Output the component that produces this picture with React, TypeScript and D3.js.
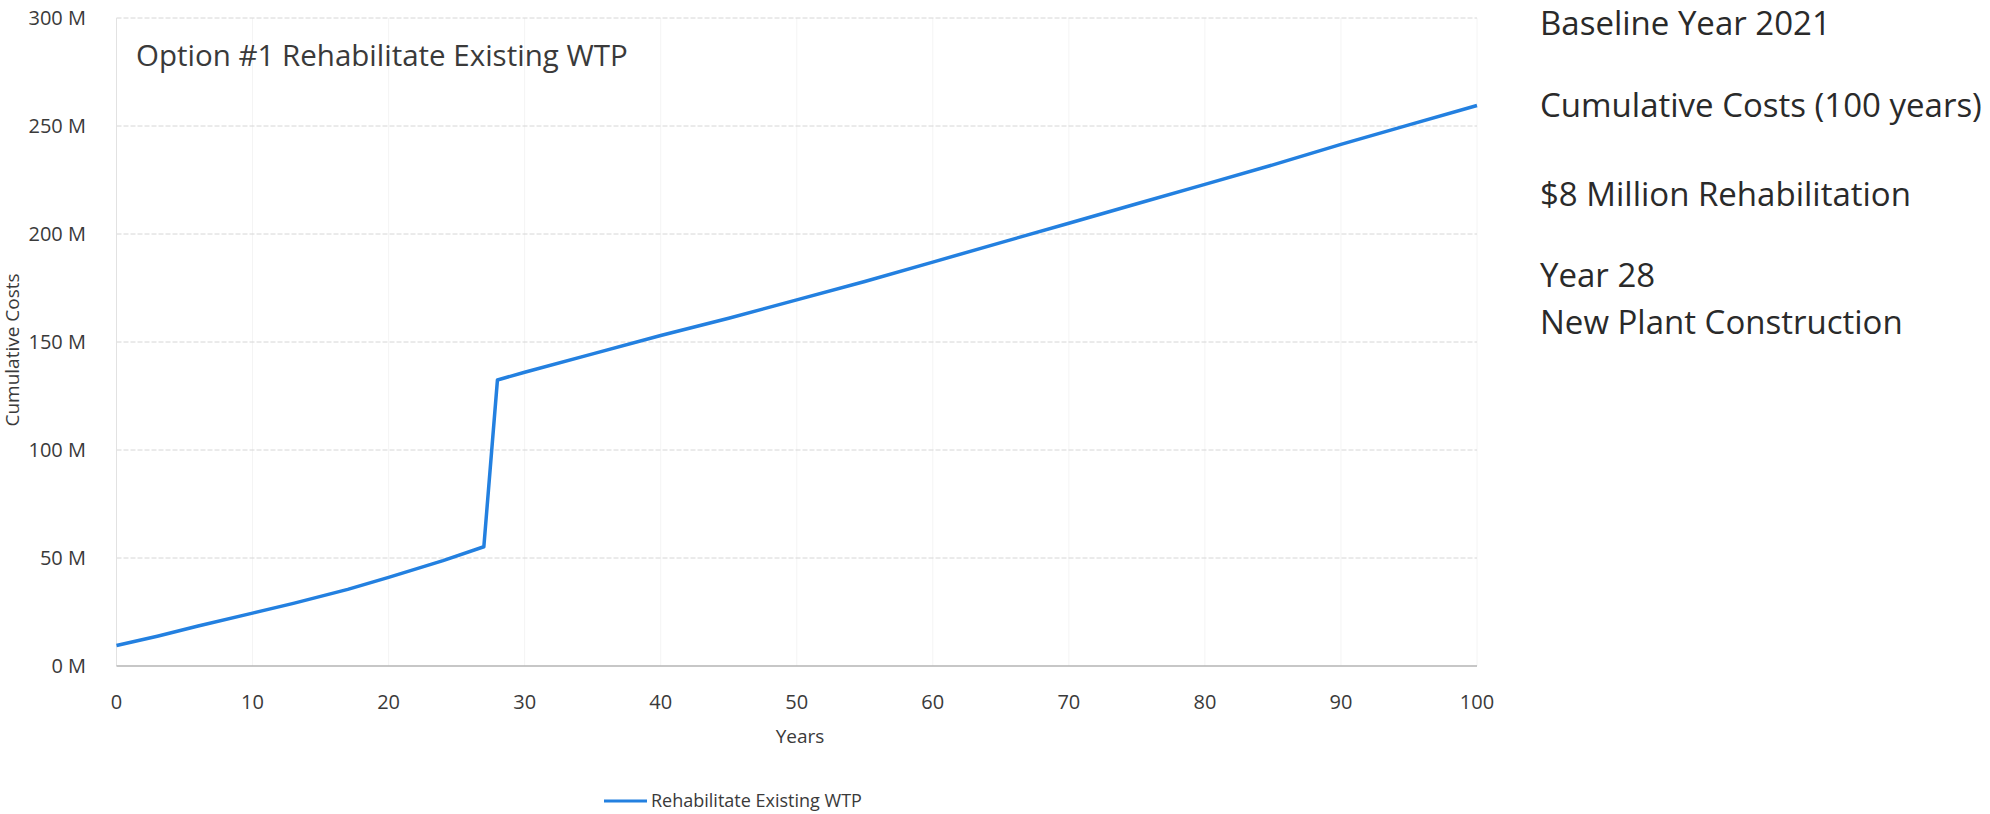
import React from "react";
import * as d3 from "d3";

// ---- data ----
const years: number[] = [0, 3, 6, 10, 13, 17, 20, 24, 27, 28, 30, 35, 40, 45, 50, 55, 60, 65, 70, 75, 80, 85, 90, 95, 100];
const cumulativeCostsM: number[] = [9.5, 13.8, 18.5, 24.5, 29, 35.5, 41, 48.8, 55.2, 132.4, 136, 144.5, 153, 161, 169.5, 178, 187, 196, 205, 214, 223, 232, 241.5, 250.5, 259.5];
const xTickValues: number[] = [0, 10, 20, 30, 40, 50, 60, 70, 80, 90, 100];
const yTickValues: number[] = [0, 50, 100, 150, 200, 250, 300];
const chartTitle = "Option #1 Rehabilitate Existing WTP";
const seriesName = "Rehabilitate Existing WTP";
const xAxisTitle = "Years";
const yAxisTitle = "Cumulative Costs";
const notes: string[] = [
  "Baseline Year 2021",
  "Cumulative Costs (100 years)",
  "$8 Million Rehabilitation",
  "Year 28",
  "New Plant Construction",
];

const W = 1990;
const H = 814;
const FONT = "'Open Sans', 'DejaVu Sans', sans-serif";
const LINE_COLOR = "#2380e0";

export default function App() {
  const x = d3.scaleLinear().domain([0, 100]).range([116.5, 1477]);
  const y = d3.scaleLinear().domain([0, 300]).range([666, 18]);
  const pts = years.map((yr, i) => [yr, cumulativeCostsM[i]] as [number, number]);
  const line = d3
    .line<[number, number]>()
    .x((d) => x(d[0]))
    .y((d) => y(d[1]))
    .curve(d3.curveLinear);

  const noteBaselines = [35, 117, 206, 287, 334];

  return (
    <svg
      width={W}
      height={H}
      viewBox={`0 0 ${W} ${H}`}
      style={{ position: "absolute", left: 0, top: 0, background: "#fff" }}
      fontFamily={FONT}
    >
      <rect x={0} y={0} width={W} height={H} fill="#fff" />
      {/* faint vertical grid */}
      {xTickValues.slice(1).map((t) => (
        <line key={"vx" + t} x1={x(t)} x2={x(t)} y1={y(300)} y2={y(0)} stroke="#f4f4f4" strokeWidth={1} />
      ))}
      {/* horizontal grid */}
      {yTickValues.slice(1).map((t) => (
        <line
          key={"gy" + t}
          x1={x(0)}
          x2={x(100)}
          y1={y(t)}
          y2={y(t)}
          stroke="#d6d6d6"
          strokeWidth={1}
          strokeDasharray="5 2"
        />
      ))}
      {/* y axis line */}
      <line x1={x(0)} x2={x(0)} y1={y(300)} y2={y(0)} stroke="#e2e2e2" strokeWidth={1} />
      {/* baseline */}
      <line x1={x(0)} x2={x(100)} y1={y(0)} y2={y(0)} stroke="#b5b5b5" strokeWidth={1.5} />

      {/* y tick labels */}
      {yTickValues.map((t) => (
        <text key={"yl" + t} x={86} y={y(t)} dy="0.35em" textAnchor="end" fontSize={20} fill="#3a3a3a">
          {`${t} M`}
        </text>
      ))}
      {/* x tick labels */}
      {xTickValues.map((t) => (
        <text key={"xl" + t} x={x(t)} y={702} dy="0.35em" textAnchor="middle" fontSize={20} fill="#3a3a3a">
          {t}
        </text>
      ))}
      {/* axis titles */}
      <text x={800} y={736} dy="0.35em" textAnchor="middle" fontSize={19} fill="#3a3a3a">
        {xAxisTitle}
      </text>
      <text
        transform={`translate(12,350) rotate(-90)`}
        textAnchor="middle"
        dy="0.35em"
        fontSize={19}
        fill="#3a3a3a"
      >
        {yAxisTitle}
      </text>

      {/* title */}
      <text x={136} y={56} dy="0.35em" fontSize={29.5} fill="#3a3a3a">
        {chartTitle}
      </text>

      {/* series line */}
      <path d={line(pts) || ""} fill="none" stroke={LINE_COLOR} strokeWidth={3.5} strokeLinejoin="round" />

      {/* legend */}
      <line x1={604} x2={647} y1={801} y2={801} stroke={LINE_COLOR} strokeWidth={3} />
      <text x={651} y={801} dy="0.35em" fontSize={18} fill="#3a3a3a">
        {seriesName}
      </text>

      {/* notes on the right */}
      {notes.map((n, i) => (
        <text key={"n" + i} x={1540} y={noteBaselines[i]} fontSize={33} fill="#2a2a2a">
          {n}
        </text>
      ))}
    </svg>
  );
}
